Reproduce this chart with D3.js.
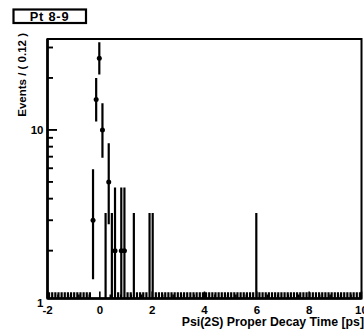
<!DOCTYPE html>
<html>
<head>
<meta charset="utf-8">
<script src="https://cdn.jsdelivr.net/npm/d3@7"></script>
<style>
  html, body { margin: 0; padding: 0; background: #fff; }
  svg { display: block; }
  text { font-family: "Liberation Sans", Arial, Helvetica, sans-serif; font-weight: bold; fill: #000; }
</style>
</head>
<body>
<div id="chart"></div>
<script>
// ---------------- data ----------------
const titleText = "Pt 8-9";
const xTitle = "Psi(2S) Proper Decay Time [ps]";
const yTitle = "Events / ( 0.12 )";
const xRange = [-2, 10];
const binWidth = 0.12;
// events per bin (100 bins of 0.12 ps from -2 to 10)
const counts = [
  0,0,0,0,0,0,0,0,0,0,
  0,0,0,0,3,15,26,10,1,5,
  1,2,0,2,2,0,0,1,0,0,
  0,0,1,1,0,0,0,0,0,0,
  0,0,0,0,0,0,0,0,0,0,
  0,0,0,0,0,0,0,0,0,0,
  0,0,0,0,0,0,1,0,0,0,
  0,0,0,0,0,0,0,0,0,0,
  0,0,0,0,0,0,0,0,0,0,
  0,0,0,0,0,0,0,0,0,0
];
// Poisson 68% interval bounds for the counts that occur
const intervalN     = [0,      1,      2,      3,      5,      10,     15,     26];
const intervalLow   = [0,      0.173,  0.708,  1.367,  2.840,  6.891,  11.17,  20.94];
const intervalHigh  = [1.148,  3.300,  4.638,  5.918,  8.382,  14.27,  19.97,  32.17];
const xTickValues = [-2, 0, 2, 4, 6, 8, 10];
const yTickLabels = [1, 10];
const yMinorTicks = [2, 3, 4, 5, 6, 7, 8, 9, 20, 30];
const yDomain = [1.057, 33.6];

// ---------------- layout ----------------
const W = 364, H = 332;
const fx0 = 47.5, fx1 = 361.5, fy0 = 39, fy1 = 298.5;

const svg = d3.select("#chart").append("svg").attr("width", W).attr("height", H);

const x = d3.scaleLinear().domain(xRange).range([fx0, fx1]);
const y = d3.scaleLog().domain(yDomain).range([fy1, fy0]);

const bins = counts.map((n, i) => {
  const lo = xRange[0] + i * binWidth;
  const j = intervalN.indexOf(n);
  return { lo, hi: lo + binWidth, c: lo + binWidth / 2, n, eLo: intervalLow[j], eHi: intervalHigh[j] };
});

svg.append("defs").append("clipPath").attr("id", "frameClip")
  .append("rect").attr("x", fx0).attr("y", fy0).attr("width", fx1 - fx0).attr("height", fy1 - fy0);

const yc = v => v <= yDomain[0] ? fy1 + 5 : y(v);

const data = svg.append("g").attr("clip-path", "url(#frameClip)");
// vertical error bars
data.selectAll("line.ey").data(bins).join("line").attr("class", "ey")
  .attr("x1", d => x(d.c)).attr("x2", d => x(d.c))
  .attr("y1", d => yc(d.eLo)).attr("y2", d => yc(d.eHi))
  .attr("stroke", "#000").attr("stroke-width", 2.2);
// horizontal (bin width) error bars
data.selectAll("line.ex").data(bins.filter(d => d.n > 0)).join("line").attr("class", "ex")
  .attr("x1", d => x(d.lo)).attr("x2", d => x(d.hi))
  .attr("y1", d => yc(d.n)).attr("y2", d => yc(d.n))
  .attr("stroke", "#000").attr("stroke-width", 1.8);
// markers
data.selectAll("circle").data(bins.filter(d => d.n > 0)).join("circle")
  .attr("cx", d => x(d.c)).attr("cy", d => yc(d.n)).attr("r", 2.5).attr("fill", "#000");

// ---------------- axes ----------------
const ax = svg.append("g").attr("stroke", "#000");
// x ticks (inward)
const xMinor = d3.range(xRange[0], xRange[1] + 1e-9, 0.4).filter(v => !xTickValues.some(t => Math.abs(t - v) < 1e-6));
ax.selectAll("line.xM").data(xTickValues).join("line").attr("class", "xM")
  .attr("x1", d => x(d)).attr("x2", d => x(d)).attr("y1", fy1).attr("y2", fy1 - 7).attr("stroke-width", 1.6);
ax.selectAll("line.xm").data(xMinor).join("line").attr("class", "xm")
  .attr("x1", d => x(d)).attr("x2", d => x(d)).attr("y1", fy1).attr("y2", fy1 - 4).attr("stroke-width", 1.6);
// y ticks (inward)
ax.selectAll("line.yM").data(yTickLabels.filter(v => v >= yDomain[0])).join("line").attr("class", "yM")
  .attr("x1", fx0).attr("x2", fx0 + 9.5).attr("y1", d => y(d)).attr("y2", d => y(d)).attr("stroke-width", 1.9);
ax.selectAll("line.ym").data(yMinorTicks).join("line").attr("class", "ym")
  .attr("x1", fx0).attr("x2", fx0 + 5.5).attr("y1", d => y(d)).attr("y2", d => y(d)).attr("stroke-width", 1.9);

// frame
svg.append("rect").attr("x", fx0).attr("y", fy0).attr("width", fx1 - fx0).attr("height", fy1 - fy0)
  .attr("fill", "none").attr("stroke", "#000").attr("stroke-width", 2);
svg.append("line").attr("x1", fx0).attr("x2", fx0).attr("y1", fy0).attr("y2", fy1)
  .attr("stroke", "#000").attr("stroke-width", 2.6);
svg.append("line").attr("x1", fx0).attr("x2", fx1).attr("y1", fy1).attr("y2", fy1)
  .attr("stroke", "#000").attr("stroke-width", 2.6);

// tick labels
svg.selectAll("text.xl").data(xTickValues).join("text").attr("class", "xl")
  .attr("x", d => x(d)).attr("y", 313.5).attr("text-anchor", "middle")
  .attr("font-size", 11.5).text(d => d);
svg.selectAll("text.yl").data(yTickLabels).join("text").attr("class", "yl")
  .attr("x", 43.5).attr("y", d => y(d)).attr("dy", "0.36em").attr("text-anchor", "end")
  .attr("font-size", 11.5).text(d => d);

// axis titles
svg.append("text").attr("x", 364).attr("y", 326).attr("text-anchor", "end")
  .attr("font-size", 12.3).text(xTitle);
svg.append("text").attr("transform", "translate(25.5,33) rotate(-90)").attr("text-anchor", "end")
  .attr("font-size", 11.5).text(yTitle);

// title box
const tg = svg.append("g");
tg.append("rect").attr("x", 13.5).attr("y", 9.5).attr("width", 72.5).attr("height", 13.5)
  .attr("fill", "#fff").attr("stroke", "#000").attr("stroke-width", 2.2);
tg.append("text").attr("x", 49.5).attr("y", 20.8).attr("text-anchor", "middle")
  .attr("font-size", 12.8).attr("letter-spacing", 0.8).text(titleText);
</script>
</body>
</html>
